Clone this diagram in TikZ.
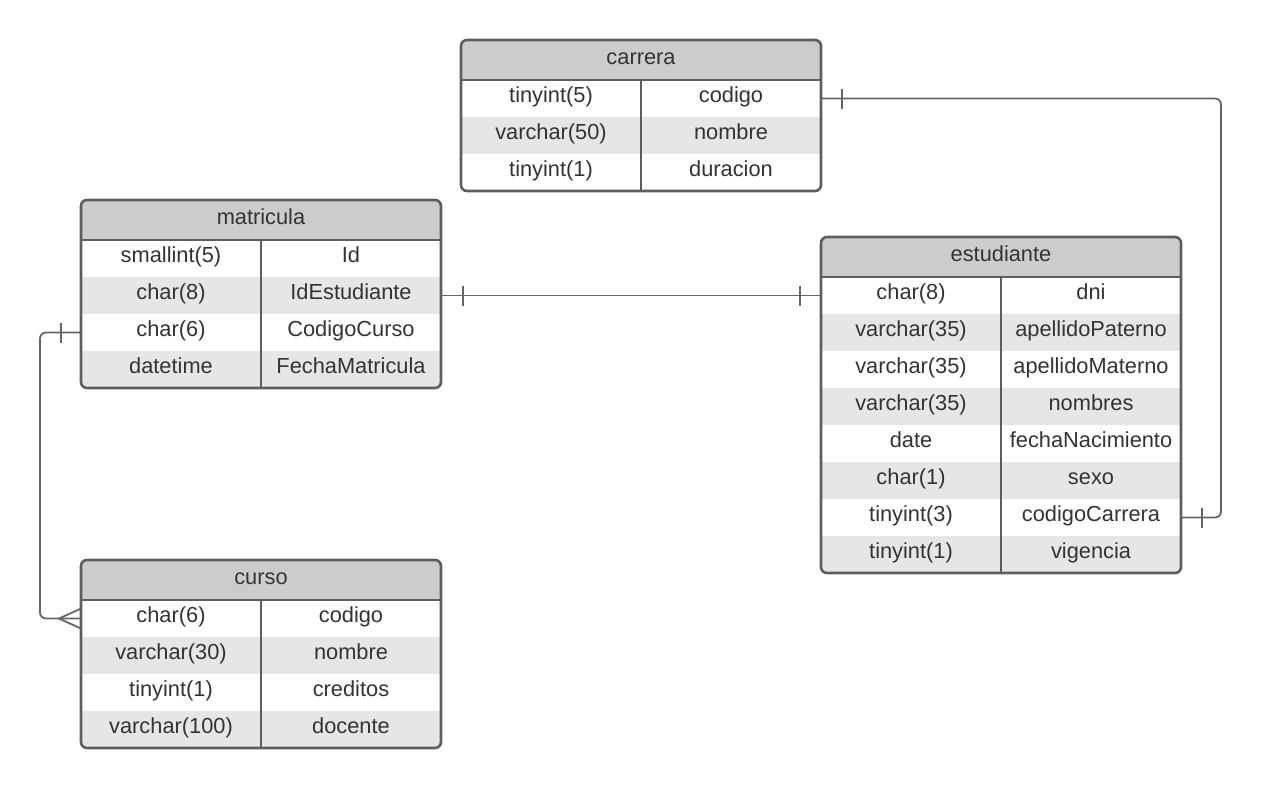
\documentclass[tikz,border=0pt]{standalone}
\usepackage{fontspec}
\setmainfont{Liberation Sans}
\usetikzlibrary{calc}
\definecolor{frame}{HTML}{5E5E5E}
\definecolor{hdr}{HTML}{CCCCCC}
\definecolor{alt}{HTML}{E6E6E6}
\definecolor{txt}{HTML}{333333}
\definecolor{lnk}{HTML}{666666}
\tikzset{
  cell/.style={text=txt,font=\fontsize{21.8}{25}\selectfont,inner sep=0pt,anchor=base},
  tframe/.style={draw=frame,line width=2.6pt},
  conn/.style={draw=lnk,line width=1.8pt},
}
% #1 name, #2 left x, #3 top y, #4 title, #5 number of rows, #6 rows type/name
\newcommand\ertable[6]{%
  \begin{scope}[shift={(#2,#3)}]
    \begin{scope}
      \clip[rounded corners=6] (0,0) rectangle (360,{40+37*#5});
      \fill[hdr] (0,0) rectangle (360,40);
      \foreach \t/\n [count=\i] in {#6} {
        \ifodd\i\relax\else
          \fill[alt] (0,{40+37*(\i-1)}) rectangle (360,{40+37*\i});
        \fi
      }
    \end{scope}
    \node[cell] (#1-title) at (180,24.5) {#4};
    \foreach \t/\n [count=\i] in {#6} {
      \node[cell] (#1-\i-type) at (90,{40+37*\i-14.3}) {\t};
      \node[cell] (#1-\i-name) at (270,{40+37*\i-14.3}) {\n};
      \coordinate (#1-\i-l) at (0,{40+37*(\i-0.5)});
      \coordinate (#1-\i-r) at (360,{40+37*(\i-0.5)});
    }
    \draw[tframe] (0,40) -- (360,40);
    \draw[tframe] (180,40) -- (180,{40+37*#5});
    \draw[tframe,rounded corners=6] (0,0) rectangle (360,{40+37*#5});
  \end{scope}}
\begin{document}
\begin{tikzpicture}[x=1pt,y=-1pt]
\useasboundingbox (0,0) rectangle (1263,788);
\fill[white] (0,0) rectangle (1263,788);

\ertable{carrera}{461}{40}{carrera}{3}{tinyint(5)/codigo,varchar(50)/nombre,tinyint(1)/duracion}
\ertable{matricula}{81}{200}{matricula}{4}{smallint(5)/Id,char(8)/IdEstudiante,char(6)/CodigoCurso,datetime/FechaMatricula}
\ertable{estudiante}{821}{237}{estudiante}{8}{char(8)/dni,varchar(35)/apellidoPaterno,varchar(35)/apellidoMaterno,varchar(35)/nombres,date/fechaNacimiento,char(1)/sexo,tinyint(3)/codigoCarrera,tinyint(1)/vigencia}
\ertable{curso}{81}{560}{curso}{4}{char(6)/codigo,varchar(30)/nombre,tinyint(1)/creditos,varchar(100)/docente}

% carrera -- estudiante
\coordinate (ce) at ($(carrera-1-r)+(400,0)$);
\draw[conn,rounded corners=6] (carrera-1-r) -- (ce) |- (estudiante-7-r);
\draw[conn] ($(carrera-1-r)+(21,-10)$) -- ++(0,20);
\draw[conn] ($(estudiante-7-r)+(21,-10)$) -- ++(0,20);

% matricula -- estudiante
\draw[conn] (matricula-2-r) -- (estudiante-1-l);
\draw[conn] ($(matricula-2-r)+(22,-10)$) -- ++(0,20);
\draw[conn] ($(estudiante-1-l)+(-21,-10)$) -- ++(0,20);

% matricula -- curso
\coordinate (mc) at ($(matricula-3-l)+(-41,0)$);
\draw[conn,rounded corners=6] (matricula-3-l) -- (mc) |- (curso-1-l);
\draw[conn] ($(matricula-3-l)+(-20,-10)$) -- ++(0,20);
\draw[conn] ($(curso-1-l)+(0,-10)$) -- ($(curso-1-l)+(-22,0)$) -- ($(curso-1-l)+(0,10)$);
\end{tikzpicture}
\end{document}
